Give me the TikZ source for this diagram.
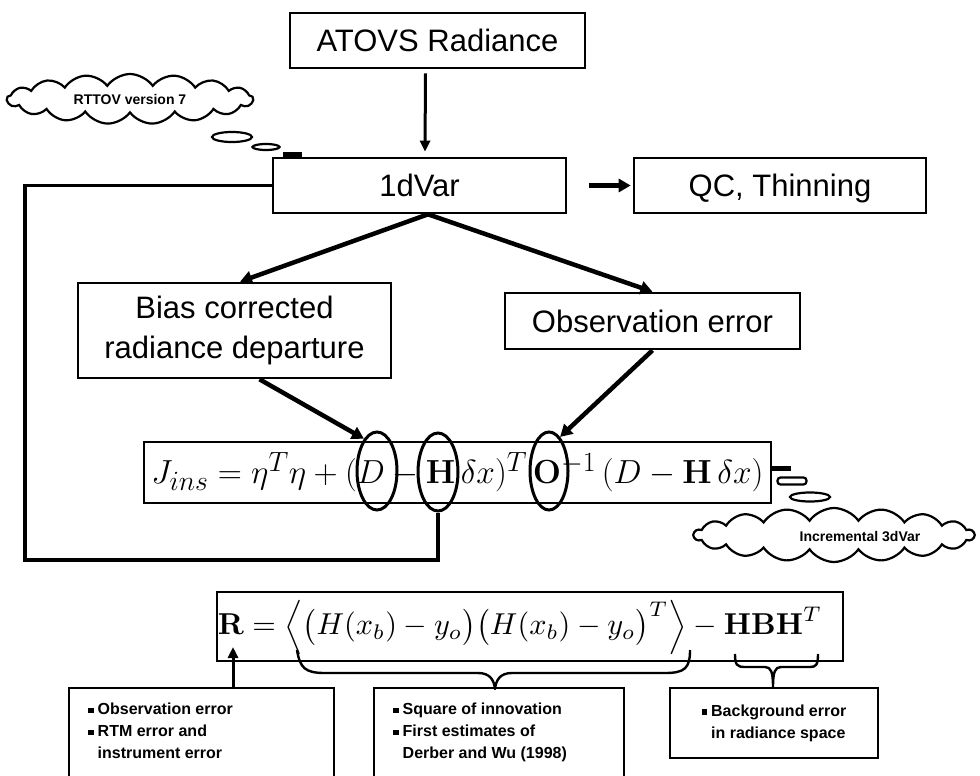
\documentclass[tikz,border=0pt]{standalone}
\usepackage[no-math]{fontspec}
\setmainfont{Liberation Sans}
\usepackage{graphicx}
\usetikzlibrary{arrows.meta,shapes.symbols,shapes.geometric}
\newcommand\sqb{\rule[1.5pt]{5.5pt}{5.5pt}\hspace{4pt}}
\newcommand\sqi{\hspace*{9.5pt}}
\begin{document}
\begin{tikzpicture}[x=1pt,y=-1pt,
  box/.style={draw, line width=2.6pt, inner sep=0pt, align=center,
    font=\fontsize{31}{40}\selectfont},
  oneline/.style={text height=22pt, text depth=0pt},
  sbox/.style={draw, line width=2.4pt, inner sep=0pt},
  small/.style={font=\fontsize{16}{22}\selectfont\bfseries, align=left, inner sep=0pt},
  arr/.style={line width=3pt, -{Triangle[length=11pt,width=10pt]}},
  thickarr/.style={line width=4.5pt, -{Triangle[length=12pt,width=13pt]}},
  ring/.style={ellipse, draw, line width=3pt, inner sep=0pt},
  fb/.style={line width=3.5pt},
  bracepath/.style={line width=2.4pt, line join=round},
  thought/.style={cloud, draw, line width=2.2pt, inner sep=0pt, cloud puff arc=110},
  bubble/.style={ellipse, draw, line width=2.2pt, inner sep=0pt}]
\useasboundingbox (0,0) rectangle (980,776);
\clip (0,0) rectangle (980,776);

% main boxes
\node[box, oneline, minimum width=295pt, minimum height=55pt] (atovs) at (437.5,40.5) {ATOVS Radiance};
\node[box, oneline, minimum width=293pt, minimum height=55pt] (onedvar) at (419.5,185.5) {1dVar};
\node[box, oneline, minimum width=292pt, minimum height=55pt] (qc) at (780,185.5) {QC, Thinning};
\node[box, minimum width=313pt, minimum height=95pt] (bias) at (234.5,330.5) {Bias corrected\\radiance departure};
\node[box, oneline, minimum width=295pt, minimum height=56pt] (obs) at (652.5,321) {Observation error};

% cost function box
\node[box, minimum width=627pt, minimum height=61pt] (jbox) at (457.5,472.5)
  {\resizebox{612pt}{!}{$J_{ins} = \eta^{T}\eta + (D - \mathbf{H}\,\delta x)^{T}\,\mathbf{O}^{-1}\,(D - \mathbf{H}\,\delta x)$}};
\node[ring, minimum width=40pt, minimum height=78pt] (ellD) at (377,471) {};
\node[ring, minimum width=40pt, minimum height=78pt] (ellH) at (438,472) {};
\node[ring, minimum width=38pt, minimum height=78pt] (ellO) at (549,471) {};

% R box
\node[box, minimum width=626pt, minimum height=69pt] (rbox) at (530,626.5) {};
\node[inner sep=0pt] (reqn) at (520,627)
  {\resizebox{604pt}{!}{$\mathbf{R} = \Big\langle\big(H(x_b) - y_o\big)\big(H(x_b) - y_o\big)^{T}\Big\rangle - \mathbf{HBH}^{T}$}};

% bottom boxes
\node[sbox, minimum width=265pt, minimum height=112pt] (box1) at (201.5,744) {};
\node[small, anchor=north west] (t1) at (88,703) {\sqb Observation error\\\sqb RTM error and\\\sqi instrument error};
\node[sbox, minimum width=250pt, minimum height=112pt] (box2) at (499,744) {};
\node[small, anchor=north west] (t2) at (393,703) {\sqb Square of innovation\\\sqb First estimates of\\\sqi Derber and Wu (1998)};
\node[sbox, minimum width=208pt, minimum height=70pt, small, align=left] (box3) at (774,723)
  {\sqb Background error\\\sqi in radiance space};

% clouds
\node[thought, cloud puffs=17, aspect=4.9, minimum width=246pt, minimum height=50pt,
  font=\fontsize{14}{16}\selectfont\bfseries] (rttov) at (130,99) {RTTOV version 7};
\node[bubble, minimum width=40pt, minimum height=10pt] (rb1) at (232,137) {};
\node[bubble, minimum width=27pt, minimum height=6pt] (rb2) at (266,147) {};
\node[draw, fill=black, line width=1pt, minimum width=18pt, minimum height=6pt, inner sep=0pt] (rb3) at (292,155) {};

\node[thought, cloud puffs=18, aspect=5.2, minimum width=280pt, minimum height=54pt] (incr) at (834,535) {};
\node[font=\fontsize{14}{16}\selectfont\bfseries, inner sep=0pt] (incrt) at (860,537) {Incremental 3dVar};
\node[draw, fill=black, line width=1pt, minimum width=18pt, minimum height=4pt, inner sep=0pt] (ib1) at (781,468) {};
\node[draw, rounded corners=3pt, line width=2.2pt, minimum width=29pt, minimum height=7pt, inner sep=0pt] (ib2) at (792,481) {};
\node[bubble, minimum width=40pt, minimum height=9pt] (ib3) at (810,497) {};

% connectors
\draw[arr] ([shift={(-12,4)}]atovs.south) -- ([shift={(5.5,-5)}]onedvar.north);
\draw[thickarr] ([xshift=22pt]onedvar.east) -- ([xshift=-2pt]qc.west);
\draw[thickarr] ([xshift=8.5pt]onedvar.south) -- ([xshift=5.5pt]bias.north);
\draw[thickarr] ([xshift=8.5pt]onedvar.south) -- (obs.north);
\draw[thickarr] ([xshift=25pt]bias.south) -- (ellD.112);
\draw[thickarr] (obs.south) -- (ellO.72);

\coordinate (fbcorner) at (25,560);
\draw[fb] (onedvar.west) -| (fbcorner) -| (ellH.south);

\coordinate (rtip) at (233,647);
\draw[arr] ([xshift=31.5pt]box1.north) -- (rtip);

% braces
\draw[bracepath] (297,650) .. controls (300,668) and (305,673) .. (325,673) -- (478,673)
  .. controls (490,673) and (494,680) .. (495,689)
  .. controls (496,680) and (500,673) .. (512,673) -- (665,673)
  .. controls (685,673) and (690,668) .. (690,650);
\draw[bracepath] (735,654) .. controls (735,665) and (737,667) .. (745,667) -- (765,667)
  .. controls (771,667) and (773,672) .. (773,687)
  .. controls (773,672) and (775,667) .. (781,667) -- (810,667)
  .. controls (816,667) and (818,665) .. (818,654);
\end{tikzpicture}
\end{document}
